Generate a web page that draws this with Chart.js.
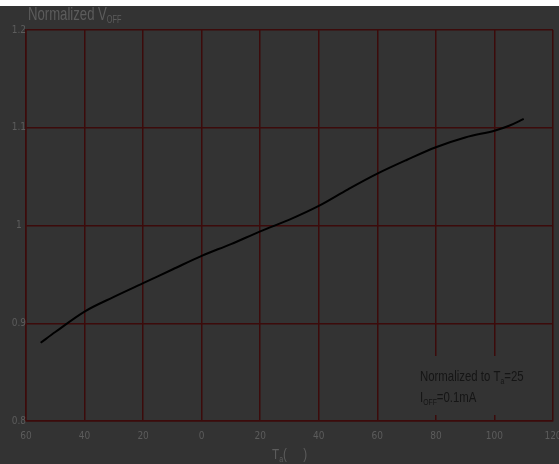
<!DOCTYPE html>
<html>
<head>
<meta charset="utf-8">
<style>
  html, body { margin: 0; padding: 0; background: #ffffff; }
  #wrap { position: absolute; left: 0; top: 0; width: 559px; height: 464px; }
</style>
<script src="https://cdn.jsdelivr.net/npm/chart.js@4/dist/chart.umd.min.js"></script>
</head>
<body>
<div id="wrap"><canvas id="c" width="559" height="464"></canvas></div>
<script>
// Ambient temperature (°C) and normalized V_OFF
const temperatures = [-55, -50, -40, -30, -20, -10, 0, 10, 20, 30, 40, 50, 60, 70, 80, 90, 100, 105, 110];
const normalizedVoff = [0.880, 0.891, 0.912, 0.927, 0.941, 0.955, 0.969, 0.981, 0.994, 1.006, 1.020, 1.037, 1.053, 1.067, 1.080, 1.090, 1.097, 1.102, 1.109];

const xTickLabels = ['60', '40', '20', '0', '20', '40', '60', '80', '100', '120'];
const yTickLabels = ['0.8', '0.9', '1', '1.1', '1.2'];

const TICK_FONT = "'DejaVu Sans Condensed', 'Liberation Sans', Arial, sans-serif";
const TEXT_FONT = "'Liberation Sans', Arial, sans-serif";
const BG = '#333333';
const GRID = '#3c0b0b';
const LABEL = '#5c5c5c';
const NOTE = '#151515';

// Draws a run of [text, size, baselineShift] pieces left to right, horizontally condensed
function drawRuns(ctx, x, y, runs, color, squeeze) {
  ctx.save();
  ctx.translate(x, y);
  ctx.scale(squeeze, 1);
  ctx.fillStyle = color;
  ctx.textBaseline = 'alphabetic';
  ctx.textAlign = 'left';
  let cx = 0;
  for (const [txt, size, shift] of runs) {
    ctx.font = size + 'px ' + TEXT_FONT;
    ctx.fillText(txt, cx, shift);
    cx += ctx.measureText(txt).width;
  }
  ctx.restore();
}

const decor = {
  id: 'decor',
  beforeDraw(chart) {
    const ctx = chart.ctx;
    ctx.save();
    ctx.fillStyle = '#ffffff';
    ctx.fillRect(0, 0, chart.width, 6);
    ctx.fillStyle = BG;
    ctx.fillRect(0, 6, chart.width, chart.height - 6);
    ctx.restore();
  },
  beforeDatasetsDraw(chart) {
    // plain box behind the condition note
    const ctx = chart.ctx;
    ctx.save();
    ctx.fillStyle = BG;
    ctx.fillRect(412, 356, 134, 59);
    ctx.restore();
  },
  afterDraw(chart) {
    const ctx = chart.ctx;
    drawRuns(ctx, 28, 20, [['Normalized V', 18, 0], ['OFF', 10, 3]], LABEL, 0.73);
    drawRuns(ctx, 272, 459, [['T', 15, 0], ['a', 9, 3], ['(     )', 15, 0]], LABEL, 0.78);
    drawRuns(ctx, 420, 381, [['Normalized to T', 15, 0], ['a', 9, 3], ['=25', 15, 0]], NOTE, 0.76);
    drawRuns(ctx, 420, 402, [['I', 15, 0], ['OFF', 9, 3], ['=0.1mA', 15, 0]], NOTE, 0.76);
  }
};

new Chart(document.getElementById('c'), {
  type: 'scatter',
  data: {
    datasets: [{
      data: temperatures.map((t, i) => ({ x: t, y: normalizedVoff[i] })),
      showLine: true,
      borderColor: '#000000',
      borderWidth: 2,
      pointRadius: 0,
      tension: 0.35,
      fill: false
    }]
  },
  options: {
    responsive: false,
    animation: false,
    devicePixelRatio: 1,
    layout: { padding: { top: 30, right: 6, left: 0, bottom: 0 } },
    plugins: { legend: { display: false }, tooltip: { enabled: false } },
    scales: {
      x: {
        type: 'linear',
        min: -60, max: 120,
        ticks: {
          stepSize: 20,
          color: LABEL,
          font: { family: TICK_FONT, size: 10 },
          padding: 9,
          maxRotation: 0,
          callback: (v, i) => xTickLabels[i]
        },
        grid: { color: GRID, lineWidth: 1.5, drawTicks: false },
        border: { color: GRID, width: 1.5 },
        afterFit(s) { s.height = 43; s.paddingLeft = 0; s.paddingRight = 0; }
      },
      y: {
        min: 0.8, max: 1.2,
        ticks: {
          stepSize: 0.1,
          color: LABEL,
          font: { family: TICK_FONT, size: 10 },
          crossAlign: 'center',
          padding: 0,
          callback: (v, i) => yTickLabels[i]
        },
        grid: { color: GRID, lineWidth: 1.5, drawTicks: false },
        border: { color: GRID, width: 1.5 },
        afterFit(s) { s.width = 26; s.paddingTop = 0; s.paddingBottom = 0; }
      }
    }
  },
  plugins: [decor]
});
</script>
</body>
</html>
